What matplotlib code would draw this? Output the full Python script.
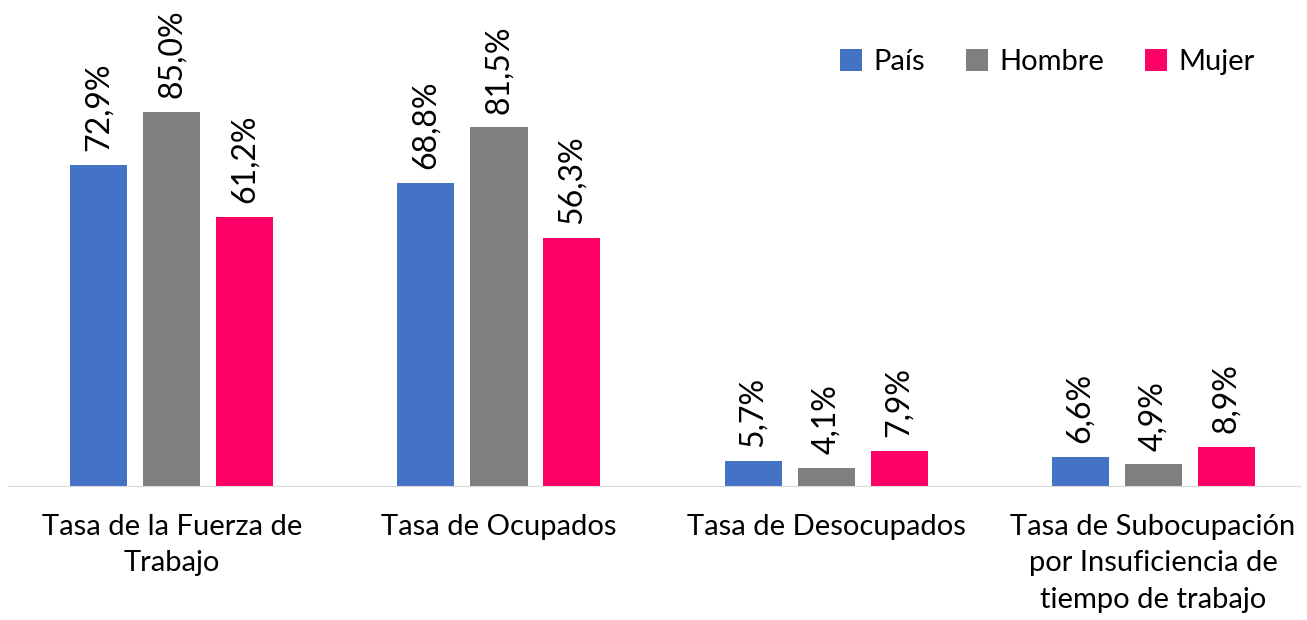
import matplotlib
matplotlib.use("Agg")
import matplotlib.pyplot as plt
import numpy as np

categories = ["Tasa de la Fuerza de\nTrabajo", "Tasa de Ocupados", "Tasa de Desocupados",
              "Tasa de Subocupación\npor Insuficiencia de\ntiempo de trabajo"]
series_names = ["País", "Hombre", "Mujer"]
pais = [72.9, 68.8, 5.7, 6.6]
hombre = [85.0, 81.5, 4.1, 4.9]
mujer = [61.2, 56.3, 7.9, 8.9]
colors = ["#4472C4", "#7F7F7F", "#FF0066"]

plt.rcParams['font.family'] = ['Lato', 'DejaVu Sans']

W, H = 1307, 620
fig = plt.figure(figsize=(W/100, H/100), dpi=100)
ax = fig.add_axes([8/W, (H-486)/H, (1300-8)/W, 486/H])

x = np.arange(len(categories))
width = 57/327
step = 73/327
for i, (vals, name, c) in enumerate(zip([pais, hombre, mujer], series_names, colors)):
    pos = x + (i-1)*step
    ax.bar(pos, vals, width=width, color=c, label=name)
    for p, v in zip(pos, vals):
        ax.annotate(f"{v:.1f}%".replace('.', ','), (p, v), xytext=(0, 10),
                    textcoords='offset points', rotation=90, ha='center', va='bottom',
                    fontsize=23)

ax.set_xlim((8-172)/327, (1300-172)/327)
ax.set_ylim(0, 486/4.4)
for s in ['top', 'right', 'left']:
    ax.spines[s].set_visible(False)
ax.spines['bottom'].set_color('#D9D9D9')
ax.set_yticks([])
ax.set_xticks(x)
ax.set_xticklabels(categories, fontsize=21, linespacing=1.5)
ax.tick_params(axis='x', length=0, pad=20)
leg = ax.legend(loc='center right', ncol=3, frameon=False, fontsize=21,
                bbox_to_anchor=(0.974, 1 - 62/486), handlelength=0.75, handleheight=0.75,
                columnspacing=1.4, handletextpad=0.4, borderaxespad=0)
fig.savefig("out.png", dpi=100)
